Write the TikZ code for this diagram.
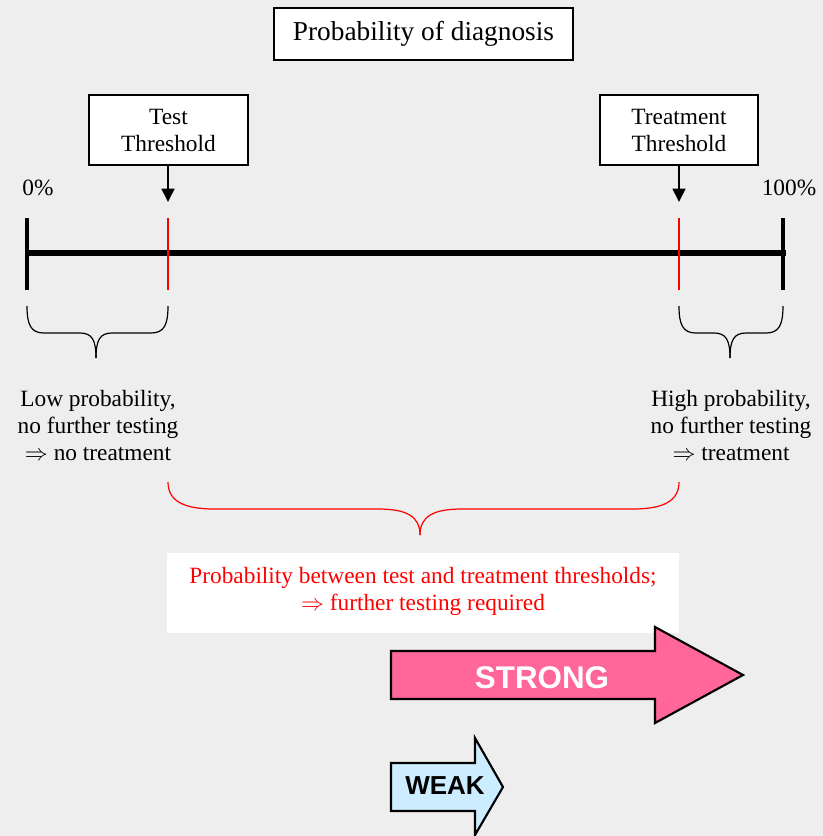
\documentclass[tikz,border=0pt]{standalone}
\usepackage{fontspec}
\setmainfont{Liberation Serif}
\newfontfamily\arialfont{Liberation Sans}
\usetikzlibrary{arrows.meta}
\definecolor{bg}{HTML}{EEEEEE}
\definecolor{pinkfill}{HTML}{FF6699}
\definecolor{bluefill}{HTML}{CCECFF}
\tikzset{
  txt/.style={font=\fontsize{17.5}{20.25}\selectfont, align=center, inner sep=0pt},
  boxlbl/.style={txt, draw=black, line width=0.9pt, fill=white},
  downarrow/.style={line width=2pt, -{Triangle[width=9.5pt,length=10pt]}},
  brace/.style={line width=0.9pt},
  bigarrow/.style={draw=black, line width=1.6pt, line join=miter},
}
\begin{document}
\begin{tikzpicture}[x=0.75pt, y=-0.75pt]
\fill[bg] (0,0) rectangle (823,836);
\useasboundingbox (0,0) rectangle (823,836);

% title
\node[boxlbl, font=\fontsize{20.5}{24}\selectfont, minimum width=224.25pt, minimum height=39pt] (title) at (423.5,34) {Probability of diagnosis};

% threshold boxes
\node[boxlbl, minimum width=119.25pt, minimum height=52.5pt] (test) at (168.5,130) {Test\\Threshold};
\node[boxlbl, minimum width=118.5pt, minimum height=52.5pt] (treat) at (679,130) {Treatment\\Threshold};

\coordinate (testtip) at (168,202);
\coordinate (treattip) at (679,202);
\draw[downarrow] (test.south -| testtip) -- (testtip);
\draw[downarrow] (treat.south -| treattip) -- (treattip);

% percent labels
\node[txt] (zero) at (38,188) {0\%};
\node[txt] (hundred) at (789,188) {100\%};

% axis
\coordinate (a0) at (25,253);
\coordinate (a1) at (786,253);
\draw[line width=4.4pt] (a0) -- (a1);
\draw[line width=2.5pt] (27,218) -- (27,290);
\draw[line width=2.5pt] (783,218) -- (783,290);
\draw[red, line width=0.9pt] (168,218) -- (168,290);
\draw[red, line width=0.9pt] (679,218) -- (679,290);

% left brace
\draw[brace] (27,306) .. controls (27,325) and (31,333) .. (44,333) -- (80,333)
  .. controls (92,333) and (96,340) .. (96,358);
\draw[brace] (168,306) .. controls (168,325) and (164,333) .. (151,333) -- (112,333)
  .. controls (100,333) and (96,340) .. (96,358);
% right brace
\draw[brace] (679,306) .. controls (679,325) and (683,333) .. (696,333) -- (714,333)
  .. controls (726,333) and (730,340) .. (730,358);
\draw[brace] (783,306) .. controls (783,325) and (779,333) .. (766,333) -- (746,333)
  .. controls (734,333) and (730,340) .. (730,358);

% side texts
\node[txt] (low) at (98,426) {Low probability,\\no further testing\\$\Rightarrow$ no treatment};
\node[txt] (high) at (731,426) {High probability,\\no further testing\\$\Rightarrow$ treatment};

% red brace
\draw[brace, red] (168,482) .. controls (168,500) and (182,509) .. (214,509) -- (378,509)
  .. controls (406,509) and (420,516) .. (420,535);
\draw[brace, red] (679,482) .. controls (679,500) and (665,509) .. (633,509) -- (462,509)
  .. controls (434,509) and (420,516) .. (420,535);

% red text box
\fill[white] (167,553) rectangle (679,633);
\node[txt, text=red] (mid) at (423,591) {Probability between test and treatment thresholds;\\$\Rightarrow$ further testing required};

% STRONG arrow
\draw[bigarrow, fill=pinkfill] (391,651) -- (655,651) -- (655,627) -- (743,675) -- (655,723) -- (655,699) -- (391,699) -- cycle;
\node[text=white, font=\arialfont\bfseries\fontsize{23.5}{26}\selectfont, inner sep=0pt] (strong) at (542,678) {STRONG};

% WEAK arrow
\draw[bigarrow, fill=bluefill] (391,763) -- (475,763) -- (475,738) -- (503,787) -- (475,835) -- (475,811) -- (391,811) -- cycle;
\node[text=black, font=\arialfont\bfseries\fontsize{19.5}{22}\selectfont, inner sep=0pt] (weak) at (445,786) {WEAK};
\end{tikzpicture}
\end{document}
